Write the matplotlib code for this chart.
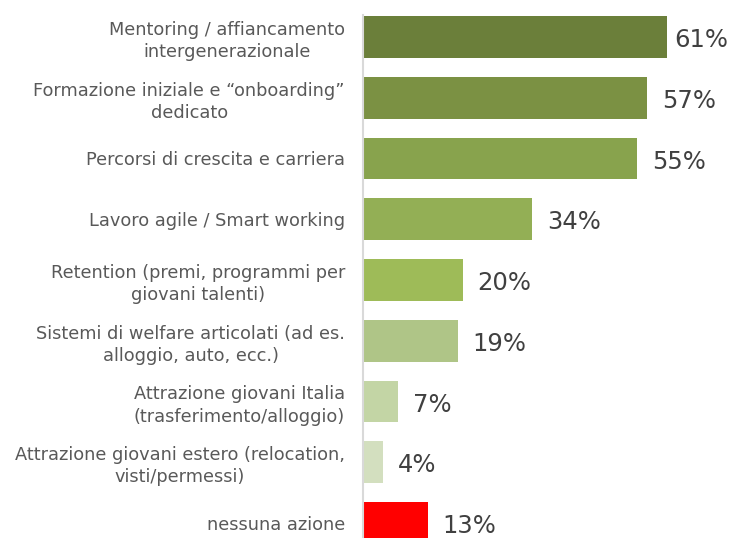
import matplotlib.pyplot as plt

labels = [
    "Mentoring / affiancamento\nintergenerazionale",
    "Formazione iniziale e \u201conboarding\u201d\ndedicato",
    "Percorsi di crescita e carriera",
    "Lavoro agile / Smart working",
    "Retention (premi, programmi per\ngiovani talenti)",
    "Sistemi di welfare articolati (ad es.\nalloggio, auto, ecc.)",
    "Attrazione giovani Italia\n(trasferimento/alloggio)",
    "Attrazione giovani estero (relocation,\nvisti/permessi)",
    "nessuna azione",
]
values = [61, 57, 55, 34, 20, 19, 7, 4, 13]
colors = ["#6B7F3A", "#7B9143", "#88A34D", "#93AF55", "#9EBB58",
          "#AFC587", "#C3D5A5", "#D3DFBF", "#FF0000"]

fig = plt.figure(figsize=(7.35, 5.38), dpi=100)
ax = fig.add_axes([363 / 735, 0, 1 - 363 / 735, 1])

y = list(range(len(values)))
ax.barh(y, values, height=0.69, color=colors)
ax.set_xlim(0, 74.7)
ax.set_ylim(8.247, -0.609)

for i, v in enumerate(values):
    off = 1.6 if v == max(values) else 3.0
    ax.text(v + off, i + 0.05, f"{v}%", va="center", ha="left",
            fontsize=17.5, color="#404040")

ax.set_yticks(y)
ax.set_yticklabels(labels, fontsize=12.8, color="#595959",
                   linespacing=1.3)
for t in ax.get_yticklabels():
    t.set_ha("right")
    t.set_multialignment("center")
ax.tick_params(axis="y", length=0, pad=13)
ax.set_xticks([])
for s in ["top", "right", "bottom"]:
    ax.spines[s].set_visible(False)
ax.spines["left"].set_color("#D9D9D9")
ax.spines["left"].set_linewidth(1.5)
ax.spines["left"].set_bounds(-0.362, 8.247)

fig.savefig("out.png", dpi=100)
